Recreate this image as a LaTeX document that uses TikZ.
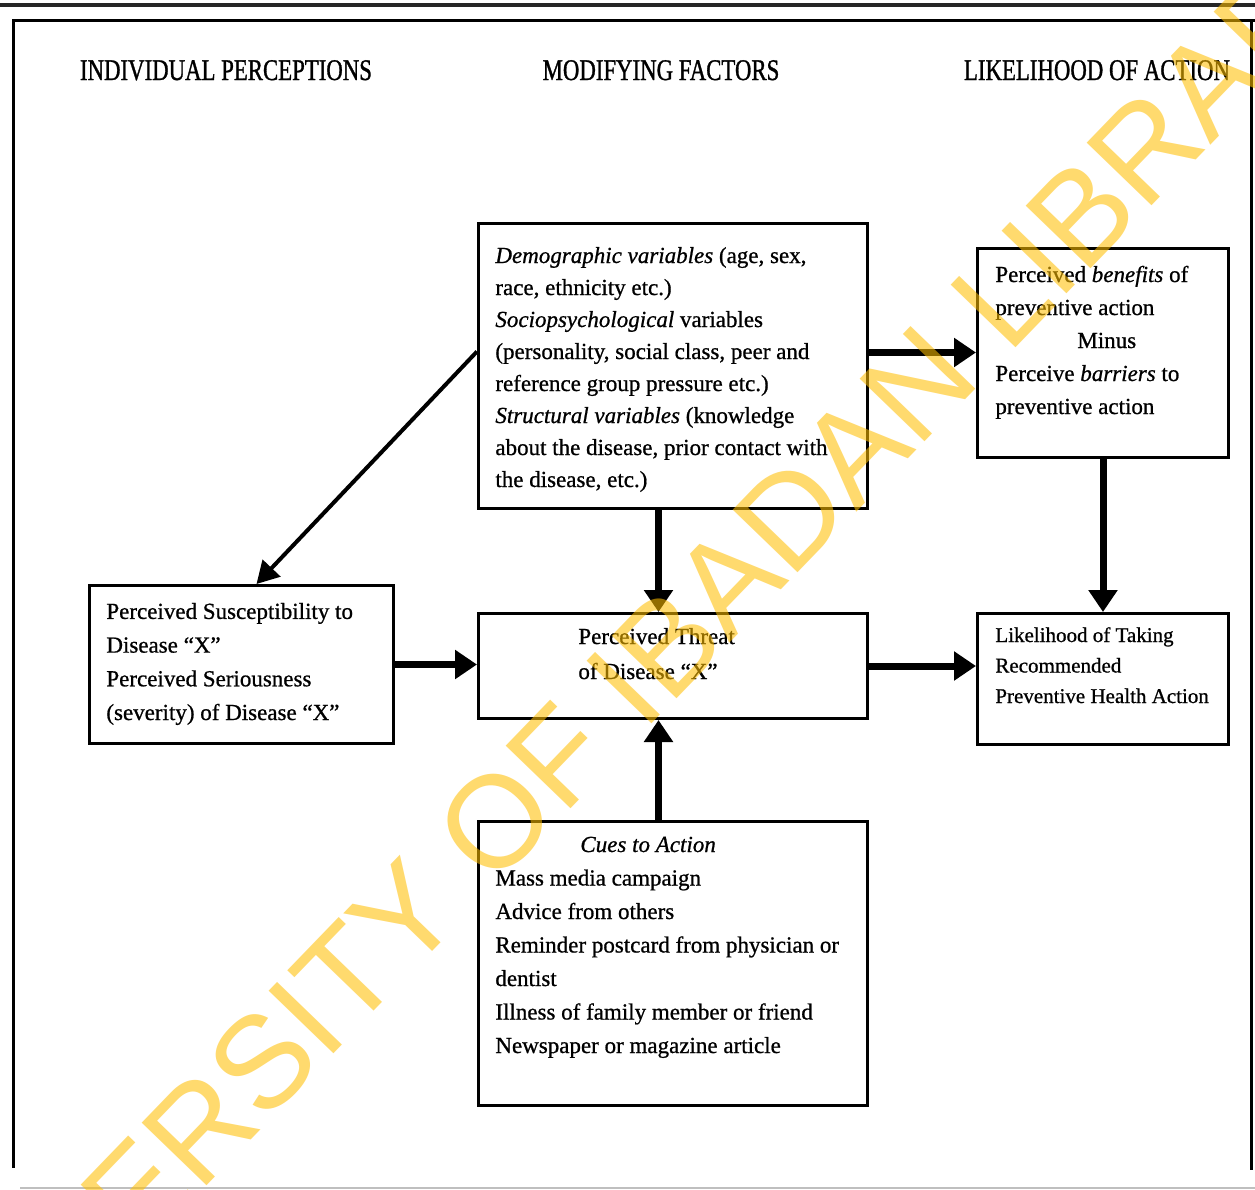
\documentclass[tikz,border=0pt]{standalone}
\usepackage{fontspec}
\setmainfont{Liberation Serif}[FakeBold=0.8]
\newfontfamily\headfont{Liberation Serif}[FakeStretch=0.76, FakeBold=1]
\newfontfamily\wmfont{Liberation Sans}
\usetikzlibrary{arrows.meta}
\definecolor{wmyellow}{RGB}{255,190,0}
\begin{document}
\begin{tikzpicture}[x=0.5pt,y=-0.5pt,
  box/.style={draw, line width=1.5pt, anchor=north west, inner sep=0pt},
  txt/.style={anchor=base west, inner sep=0pt, align=left},
  head/.style={anchor=base, inner sep=0pt, font=\headfont\fontsize{15}{18}\selectfont},
  arr/.style={line width=3.5pt, -{Triangle[length=11pt,width=14pt]}},
  thinarr/.style={line width=2pt, -{Triangle[length=11pt,width=12pt]}},
  wm/.style={rotate=46, inner sep=0pt, text=wmyellow, text opacity=0.57, font=\wmfont\fontsize{65.5}{70}\selectfont}
]
\useasboundingbox (0,0) rectangle (1255,1190);
\fill[white] (0,0) rectangle (1255,1190);
% page rules and frame
\draw[line width=2pt, black!85] (0,5) -- (1255,5);
\draw[line width=1.5pt] (1255,20) -- (13,20) -- (13,1168);
\draw[line width=1.5pt] (1251,20) -- (1251,1170);
\draw[line width=1pt, black!25] (20,1188) -- (1255,1188);
% headings
\node[head] (h1) at (226,80) {INDIVIDUAL PERCEPTIONS};
\node[head] (h2) at (661,80) {MODIFYING FACTORS};
\node[head] (h3) at (1097,80) {LIKELIHOOD OF ACTION};
% boxes
\node[box, minimum width=194.5pt, minimum height=142.5pt] (mod) at (477,222) {};
\node[box, minimum width=125.5pt, minimum height=104.5pt] (ben) at (976,247) {};
\node[box, minimum width=152pt, minimum height=79pt] (sus) at (88,584) {};
\node[box, minimum width=194.5pt, minimum height=52.5pt] (thr) at (477,612) {};
\node[box, minimum width=125.5pt, minimum height=65.5pt] (lik) at (976,612) {};
\node[box, minimum width=194.5pt, minimum height=142pt] (cue) at (477,820) {};
% texts (anchored at the baseline of their last line)
\node[txt, font=\fontsize{11.5}{16}\selectfont] (modt) at (495,487) {\textit{Demographic variables} (age, sex,\\ race, ethnicity etc.)\\ \textit{Sociopsychological} variables\\ (personality, social class, peer and\\ reference group pressure etc.)\\ \textit{Structural variables} (knowledge\\ about the disease, prior contact with\\ the disease, etc.)};
\node[txt, font=\fontsize{11.5}{16.5}\selectfont] (bent) at (995,414) {Perceived \textit{benefits} of\\ preventive action\\ \hspace*{41pt}Minus\\ Perceive \textit{barriers} to\\ preventive action};
\node[txt, font=\fontsize{11.5}{16.85}\selectfont] (sust) at (106,720) {Perceived Susceptibility to\\ Disease “X”\\ Perceived Seriousness\\ (severity) of Disease “X”};
\node[txt, font=\fontsize{11.5}{17.5}\selectfont] (thrt) at (578,679) {Perceived Threat\\ of Disease “X”};
\node[txt, font=\fontsize{10.5}{15.25}\selectfont] (likt) at (995,703) {Likelihood of Taking\\ Recommended\\ Preventive Health Action};
\node[txt, font=\fontsize{11.5}{16.75}\selectfont] (cuet) at (495,1053) {\hspace*{42.5pt}\textit{Cues to Action}\\ Mass media campaign\\ Advice from others\\ Reminder postcard from physician or\\ dentist\\ Illness of family member or friend\\ Newspaper or magazine article};
% connectors
\draw[thinarr] ([yshift=7.25pt]mod.west) -- ([xshift=7.5pt]sus.north);
\draw[arr] ([yshift=6.75pt]mod.east) -- ([yshift=6.75pt]mod.east -| ben.west);
\draw[arr] ([xshift=-7.25pt]mod.south) -- ([xshift=-7.25pt]thr.north);
\draw[arr] (ben.south) -- (lik.north);
\draw[arr] (sus.east) -- (sus.east -| thr.west);
\draw[arr] (thr.east) -- (thr.east -| lik.west);
\draw[arr] ([xshift=-7.25pt]cue.north) -- ([xshift=-7.25pt]thr.south);
% watermark
\begin{scope}
\clip (0,0) rectangle (1255,1190);
\node[wm] (wmark) at (626,686) {UNIVERSITY OF IBADAN LIBRARY};
\end{scope}
\end{tikzpicture}
\end{document}
